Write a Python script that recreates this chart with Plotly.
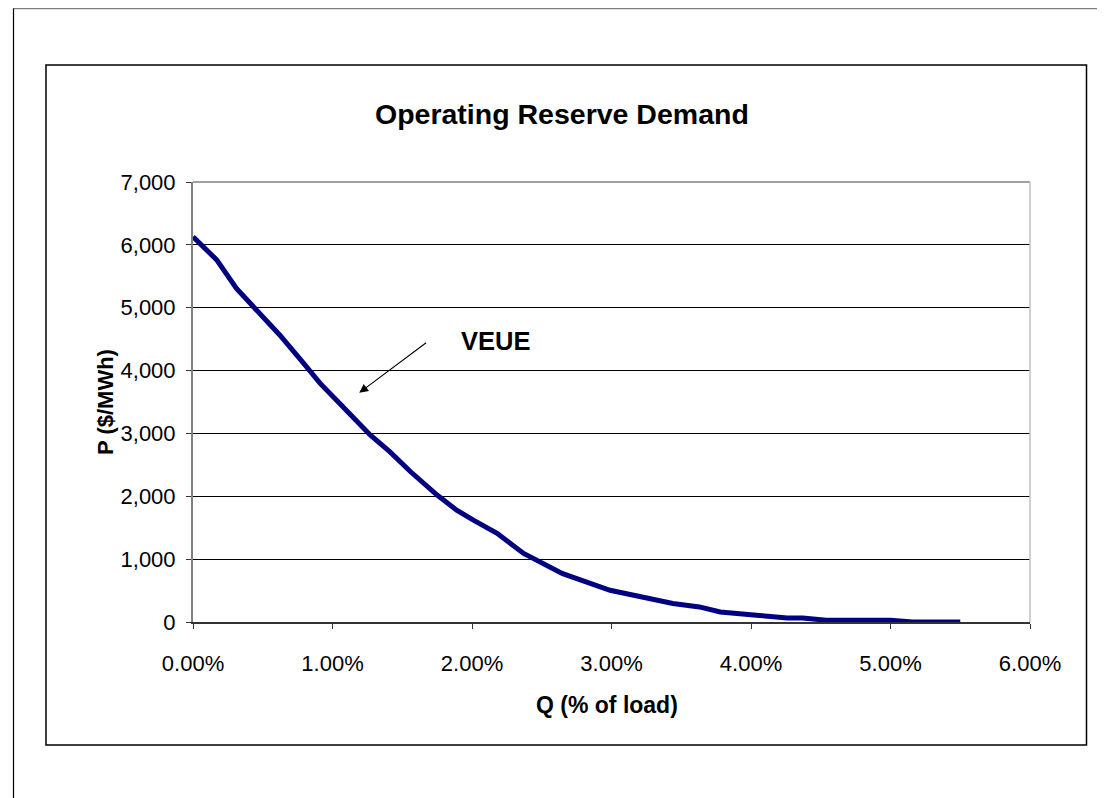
import plotly.graph_objects as go

# Data
q_share = [0.0, 0.0017, 0.0031, 0.0047, 0.0062, 0.0078, 0.0091, 0.0105, 0.0119, 0.0127,
           0.0141, 0.0156, 0.0175, 0.0189, 0.0201, 0.0218, 0.0237, 0.0265, 0.0299, 0.0320,
           0.0344, 0.0363, 0.0378, 0.0406, 0.0426, 0.0437, 0.0454, 0.0500, 0.0516, 0.0550]
price = [6130, 5760, 5310, 4930, 4570, 4150, 3800, 3480, 3170, 2975,
         2710, 2390, 2020, 1780, 1620, 1410, 1090, 770, 505, 400,
         295, 240, 160, 105, 65, 65, 27, 27, 0, 0]

x_ticks = [0.0, 0.01, 0.02, 0.03, 0.04, 0.05, 0.06]
y_ticks = [0, 1000, 2000, 3000, 4000, 5000, 6000, 7000]

title_text = "Operating Reserve Demand"
x_title = "Q (% of load)"
y_title = "P ($/MWh)"
callout = "VEUE"
arrow_tip = (0.01192, 3648)
arrow_tail = (0.01682, 4461)
callout_pos = (0.02172, 4472)

FONT = "Arial, Liberation Sans, sans-serif"

# The page body adds an 8px margin; positions below are given in window pixels
OFF = 8
W, H = 1105 - OFF, 798 - OFF
L = 193 - OFF
T = 182.3 - OFF
R = W - (1030 - OFF)
B = H - (621.7 - OFF)
pw = W - L - R
ph = H - T - B


def px(xpix):
    return (xpix - OFF - L) / pw


def py(ypix):
    return (H - B - (ypix - OFF)) / ph


fig = go.Figure()
fig.add_trace(go.Scatter(
    x=q_share, y=price, mode="lines",
    line=dict(color="#000080", width=5),
    showlegend=False, hoverinfo="skip",
))

shapes = [
    # outer page border (top and left)
    dict(type="line", xref="paper", yref="paper", x0=px(13), x1=px(1110), y0=py(9), y1=py(9),
         line=dict(color="#808080", width=1.5)),
    dict(type="line", xref="paper", yref="paper", x0=px(13.5), x1=px(13.5), y0=py(9), y1=py(805),
         line=dict(color="#000000", width=1.2)),
    # chart area box
    dict(type="rect", xref="paper", yref="paper", x0=px(46), x1=px(1086.5), y0=py(744.5), y1=py(65.5),
         line=dict(color="#000000", width=1.5), layer="below"),
    # plot area top and right borders
    dict(type="line", xref="paper", yref="paper", x0=0, x1=1, y0=1, y1=1,
         line=dict(color="#808080", width=1.5)),
    dict(type="line", xref="paper", yref="paper", x0=1, x1=1, y0=0, y1=1,
         line=dict(color="#c0c0c0", width=1.5)),
]

annotations = [
    dict(text="<b>%s</b>" % title_text, xref="paper", yref="paper",
         x=px(562), y=py(114), xanchor="center", yanchor="middle", showarrow=False,
         font=dict(family=FONT, size=28.5, color="#000000")),
    dict(text="<b>%s</b>" % x_title, xref="paper", yref="paper",
         x=px(607), y=py(705), xanchor="center", yanchor="middle", showarrow=False,
         font=dict(family=FONT, size=23, color="#000000")),
    dict(text="<b>%s</b>" % y_title, xref="paper", yref="paper", textangle=-90,
         x=px(105), y=py(402), xanchor="center", yanchor="middle", showarrow=False,
         font=dict(family=FONT, size=22, color="#000000")),
    dict(text="<b>%s</b>" % callout, xref="x", yref="y",
         x=callout_pos[0], y=callout_pos[1], xanchor="center", yanchor="middle", showarrow=False,
         font=dict(family=FONT, size=25.5, color="#000000")),
    dict(text="", xref="x", yref="y", axref="x", ayref="y",
         x=arrow_tip[0], y=arrow_tip[1], ax=arrow_tail[0], ay=arrow_tail[1],
         showarrow=True, arrowhead=2, arrowsize=1.6, arrowwidth=1.1, arrowcolor="#000000"),
]

fig.update_layout(
    width=W, height=H,
    margin=dict(l=L, r=R, t=T, b=B, pad=0),
    paper_bgcolor="#ffffff", plot_bgcolor="#ffffff",
    font=dict(family=FONT, size=20, color="#000000"),
    shapes=shapes, annotations=annotations,
    showlegend=False,
)
fig.update_xaxes(
    range=[0, 0.06], tickvals=x_ticks, tickformat=".2%",
    showgrid=False, zeroline=False,
    showline=True, linecolor="#333333", linewidth=1.5,
    ticks="outside", ticklen=5, tickcolor="#333333", tickwidth=1,
    tickfont=dict(family=FONT, size=22, color="#000000"),
    ticklabelstandoff=16,
)
fig.update_yaxes(
    range=[0, 7000], tickvals=y_ticks, tickformat=",",
    showgrid=True, gridcolor="#000000", gridwidth=1,
    zeroline=False,
    showline=True, linecolor="#808080", linewidth=2,
    ticks="outside", ticklen=5, tickcolor="#333333", tickwidth=1,
    tickfont=dict(family=FONT, size=22, color="#000000"),
    ticklabelstandoff=6,
)

fig.write_html("out.html")
